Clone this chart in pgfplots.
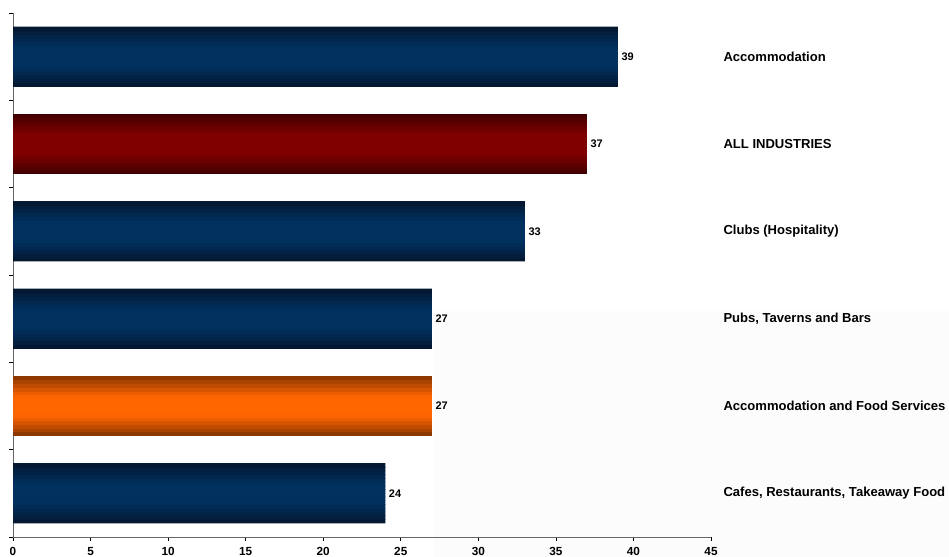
\documentclass[border=0pt]{standalone}
\usepackage{fontspec}
\setmainfont{Liberation Sans}
\usepackage{pgfplots}
\pgfplotsset{compat=1.18}
\definecolor{navyE}{HTML}{06142A}
\definecolor{navyM}{HTML}{00315F}
\definecolor{redE}{HTML}{3A0000}
\definecolor{redM}{HTML}{800000}
\definecolor{orgE}{HTML}{7A3000}
\definecolor{orgM}{HTML}{FF6600}
\definecolor{bgG}{HTML}{FCFCFC}
% one horizontal slice of every bar: #1 = bar shift, #2 = share of the middle colour
\newcommand{\slice}[2]{%
\addplot[xbar, bar width=0.052, bar shift=#1, fill=navyM!#2!navyE, draw=none] coordinates {(24,1) (27,3) (33,4) (39,6)};
\addplot[xbar, bar width=0.052, bar shift=#1, fill=redM!#2!redE, draw=none] coordinates {(37,5)};
\addplot[xbar, bar width=0.052, bar shift=#1, fill=orgM!#2!orgE, draw=none] coordinates {(27,2)};
}
\begin{document}
\begin{tikzpicture}
\fill[bgG] (433bp,0bp) rectangle (949bp,246bp);
\begin{axis}[
  at={(13bp,20bp)}, anchor=south west,
  scale only axis, width=698bp, height=524bp,
  xmin=0, xmax=45, ymin=0.5, ymax=6.5,
  axis x line*=bottom, axis y line*=left,
  axis line style={draw=black!60},
  tick align=outside, major tick length=4bp,
  tick style={draw=black, line width=0.6pt},
  xtick={0,5,...,45},
  ytick={0.5,1.5,...,6.5}, yticklabels={},
  yticklabel pos=right,
  extra y ticks={1,2,3,4,5,6},
  extra y tick labels={{Cafes, Restaurants, Takeaway Food},{Accommodation and Food Services},{Pubs, Taverns and Bars},{Clubs (Hospitality)},{ALL INDUSTRIES},{Accommodation}},
  extra y tick style={major tick length=0pt, yticklabel pos=right,
    yticklabel style={anchor=west, xshift=9bp, font=\bfseries\fontsize{13.1}{15}\selectfont}},
  xticklabel style={font=\bfseries\fontsize{11.8}{13}\selectfont, inner sep=0pt, anchor=north, yshift=-6bp},
  /pgf/number format/assume math mode=true,
  clip=false,
]
\slice{-0.31875}{15}
\slice{-0.27625}{35}
\slice{-0.23375}{52}
\slice{-0.19125}{69}
\slice{-0.14875}{84}
\slice{-0.10625}{97}
\slice{-0.06375}{100}
\slice{-0.02125}{100}
\slice{0.02125}{100}
\slice{0.06375}{100}
\slice{0.10625}{97}
\slice{0.14875}{84}
\slice{0.19125}{69}
\slice{0.23375}{52}
\slice{0.27625}{35}
\slice{0.31875}{15}
% value labels
\addplot[xbar, bar width=0.68, bar shift=0pt, draw=none, fill=none,
  nodes near coords,
  nodes near coords style={font=\bfseries\fontsize{11}{12}\selectfont, anchor=west, inner sep=3.5bp, text=black}]
  coordinates {(24,1) (27,2) (27,3) (33,4) (37,5) (39,6)};
\end{axis}
\pgfresetboundingbox
\path (0,0) rectangle (949bp,557bp);
\end{tikzpicture}
\end{document}
